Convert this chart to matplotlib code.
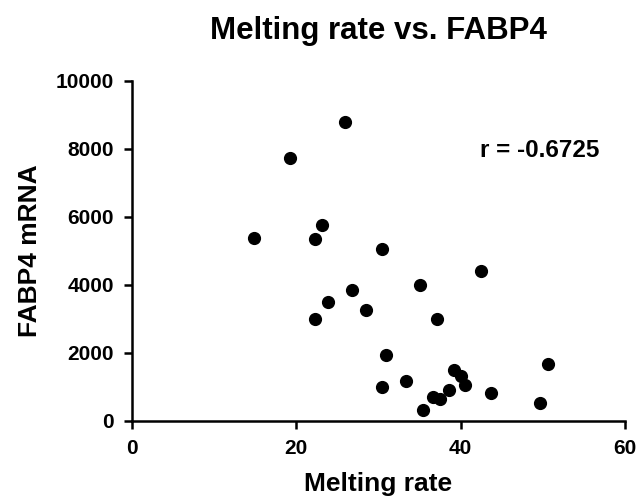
import matplotlib
matplotlib.use("Agg")
import matplotlib.pyplot as plt

plt.rcParams['font.family'] = ['Liberation Sans', 'DejaVu Sans']

# Werte
melting_rate = [25.9, 19.3, 23.2, 14.9, 22.3, 30.5, 42.5, 35.1, 26.8, 23.9,
                28.5, 22.3, 37.1, 30.9, 50.6, 39.2, 40.1, 40.5, 33.3, 30.5,
                43.7, 38.6, 36.6, 37.5, 35.4, 49.6]
fabp4 = [8790, 7730, 5745, 5380, 5333, 5040, 4410, 3990, 3843, 3480,
         3245, 3000, 2980, 1922, 1676, 1490, 1314, 1050, 1158, 1000,
         805, 903, 688, 629, 315, 511]
x_ticks = [0, 20, 40, 60]
y_ticks = [0, 2000, 4000, 6000, 8000, 10000]
r_text = "r = -0.6725"

fig = plt.figure(figsize=(6.4, 4.97), dpi=100)
ax = fig.add_axes([0.2058, 0.1535, 0.7708, 0.684])

ax.scatter(melting_rate, fabp4, s=72, color="black", zorder=3, clip_on=False)

ax.set_xlim(0, 60)
ax.set_ylim(0, 10000)
ax.set_xticks(x_ticks)
ax.set_yticks(y_ticks)

for side in ["top", "right"]:
    ax.spines[side].set_visible(False)
for side in ["left", "bottom"]:
    ax.spines[side].set_linewidth(1.8)

ax.tick_params(direction="out", length=6, width=1.8, labelsize=15)
ax.tick_params(axis="x", pad=7)
ax.tick_params(axis="y", pad=7)
for lbl in ax.get_xticklabels() + ax.get_yticklabels():
    lbl.set_fontweight("bold")

ax.set_title("Melting rate vs. FABP4", fontsize=22.5, fontweight="bold", pad=30)
ax.set_xlabel("Melting rate", fontsize=19, fontweight="bold", labelpad=10)
ax.set_ylabel("FABP4 mRNA", fontsize=19, fontweight="bold", labelpad=10)

ax.text(42.4, 7960, r_text, fontsize=17.5, fontweight="bold", va="center", ha="left")

fig.savefig("out.png", dpi=100)
